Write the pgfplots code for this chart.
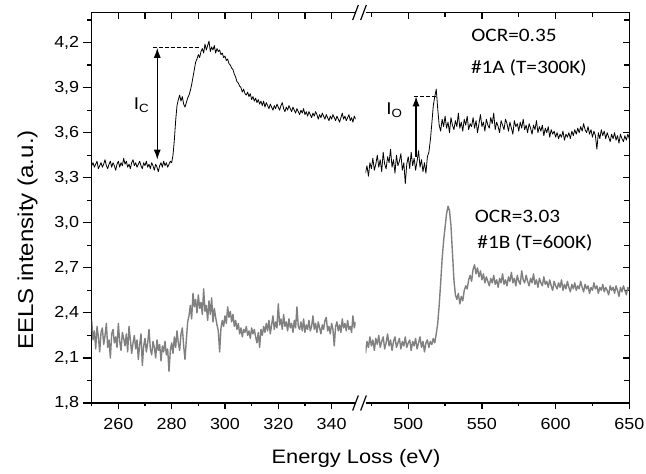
\documentclass[border=0pt]{standalone}
\usepackage{pgfplots}
\usepackage{pgfplotstable}
\pgfplotsset{compat=1.18}
\usetikzlibrary{arrows.meta}
\usepackage{fontspec}
\setmainfont{Liberation Sans}[FakeStretch=1.12]
\newfontfamily\calfont{Carlito}[FakeStretch=1.12]
\definecolor{sgray}{RGB}{128,128,128}

\pgfplotstableread{
x y
250 3.38
250.5 3.40
251 3.37
251.5 3.39
252 3.41
252.5 3.36
253 3.38
253.5 3.40
254 3.37
254.5 3.39
255 3.42
255.5 3.38
256 3.36
256.5 3.39
257 3.41
257.5 3.37
258 3.40
258.5 3.38
259 3.35
259.5 3.39
260 3.41
260.5 3.37
261 3.40
261.5 3.38
262 3.43
262.5 3.39
263 3.41
263.5 3.37
264 3.39
264.5 3.36
265 3.40
265.5 3.42
266 3.38
266.5 3.40
267 3.37
267.5 3.39
268 3.41
268.5 3.38
269 3.36
269.5 3.40
270 3.38
270.5 3.41
271 3.37
271.5 3.39
272 3.36
272.5 3.40
273 3.38
273.5 3.35
274 3.39
274.5 3.37
275 3.34
275.5 3.38
276 3.40
276.5 3.37
277 3.41
277.5 3.38
278 3.40
278.5 3.37
279 3.39
279.5 3.41
280 3.40
280.5 3.45
281 3.55
281.5 3.68
282 3.78
282.5 3.82
283 3.85
283.5 3.81
284 3.84
284.5 3.79
285 3.77
285.5 3.80
286 3.83
286.5 3.85
287 3.88
287.5 3.92
288 3.97
288.5 4.02
289 4.07
289.5 4.09
290 4.12
290.5 4.10
291 4.14
291.5 4.16
292 4.13
292.5 4.19
293 4.15
293.5 4.18
294 4.21
294.5 4.14
295 4.17
295.5 4.15
296 4.18
296.5 4.13
297 4.16
297.5 4.14
298 4.15
298.5 4.12
299 4.13
299.5 4.10
300 4.11
300.5 4.08
301 4.09
301.5 4.06
302 4.05
302.5 4.03
303 4.02
303.5 3.99
304 3.97
304.5 3.94
305 3.93
305.5 3.91
306 3.90
306.5 3.87
307 3.89
307.5 3.86
308 3.85
308.5 3.87
309 3.84
309.5 3.86
310 3.82
310.5 3.84
311 3.81
311.5 3.83
312 3.80
312.5 3.82
313 3.79
313.5 3.81
314 3.78
314.5 3.81
315 3.77
315.5 3.80
316 3.78
316.5 3.76
317 3.79
317.5 3.77
318 3.75
318.5 3.78
319 3.76
319.5 3.79
320 3.77
320.5 3.75
321 3.78
321.5 3.80
322 3.76
322.5 3.74
323 3.77
323.5 3.75
324 3.78
324.5 3.76
325 3.74
325.5 3.77
326 3.75
326.5 3.73
327 3.76
327.5 3.74
328 3.72
328.5 3.75
329 3.73
329.5 3.76
330 3.72
330.5 3.74
331 3.71
331.5 3.74
332 3.72
332.5 3.70
333 3.73
333.5 3.71
334 3.74
334.5 3.72
335 3.69
335.5 3.72
336 3.70
336.5 3.73
337 3.71
337.5 3.69
338 3.72
338.5 3.70
339 3.68
339.5 3.71
340 3.69
340.5 3.72
341 3.70
341.5 3.68
342 3.71
342.5 3.69
343 3.67
343.5 3.70
344 3.73
344.5 3.69
345 3.71
345.5 3.68
346 3.70
346.5 3.72
347 3.68
347.5 3.70
348 3.67
348.5 3.71
349 3.69
}\blackL

\pgfplotstableread{
x y
471 3.33
472 3.38
473 3.31
474 3.40
475 3.36
476 3.43
477 3.35
478 3.39
479 3.45
480 3.37
481 3.42
482 3.34
483 3.47
484 3.39
485 3.36
486 3.44
487 3.40
488 3.49
489 3.37
490 3.42
491 3.33
492 3.45
493 3.38
494 3.41
495 3.46
496 3.35
497 3.40
498 3.26
499 3.39
500 3.44
501 3.36
502 3.47
503 3.38
504 3.43
505 3.35
506 3.41
507 3.48
508 3.37
509 3.42
510 3.34
511 3.40
512 3.33
513 3.44
514 3.47
515 3.55
516 3.66
517 3.78
518 3.84
519 3.89
520 3.76
521 3.65
522 3.61
523 3.69
524 3.64
525 3.71
526 3.63
527 3.67
528 3.60
529 3.70
530 3.65
531 3.62
532 3.68
533 3.64
534 3.73
535 3.63
536 3.67
537 3.61
538 3.69
539 3.65
540 3.71
541 3.62
542 3.66
543 3.64
544 3.70
545 3.63
546 3.68
547 3.60
548 3.66
549 3.72
550 3.64
551 3.67
552 3.61
553 3.69
554 3.65
555 3.63
556 3.70
557 3.66
558 3.73
559 3.62
560 3.67
561 3.64
562 3.60
563 3.68
564 3.65
565 3.62
566 3.69
567 3.66
568 3.61
569 3.67
570 3.63
571 3.59
572 3.68
573 3.64
574 3.66
575 3.61
576 3.67
577 3.63
578 3.69
579 3.62
580 3.65
581 3.60
582 3.66
583 3.63
584 3.59
585 3.65
586 3.62
587 3.68
588 3.60
589 3.64
590 3.61
591 3.65
592 3.58
593 3.63
594 3.60
595 3.64
596 3.57
597 3.62
598 3.59
599 3.61
600 3.57
601 3.60
602 3.56
603 3.59
604 3.57
605 3.61
606 3.55
607 3.59
608 3.57
609 3.60
610 3.56
611 3.61
612 3.58
613 3.62
614 3.59
615 3.63
616 3.60
617 3.64
618 3.61
619 3.66
620 3.62
621 3.60
622 3.64
623 3.59
624 3.62
625 3.57
626 3.61
627 3.58
628 3.49
629 3.60
630 3.56
631 3.62
632 3.58
633 3.61
634 3.56
635 3.60
636 3.57
637 3.54
638 3.59
639 3.56
640 3.60
641 3.55
642 3.58
643 3.53
644 3.59
645 3.56
646 3.54
647 3.58
648 3.55
649 3.59
650 3.56
}\blackR

\pgfplotstableread{
x y
250 2.35
250.5 2.22
251 2.28
251.5 2.16
252 2.31
252.5 2.24
253 2.14
253.5 2.27
254 2.30
254.5 2.19
255 2.25
255.5 2.33
256 2.17
256.5 2.22
257 2.10
257.5 2.26
258 2.29
258.5 2.20
259 2.24
259.5 2.17
260 2.33
260.5 2.21
261 2.15
261.5 2.27
262 2.23
262.5 2.18
263 2.26
263.5 2.14
264 2.31
264.5 2.22
265 2.13
265.5 2.20
266 2.25
266.5 2.16
267 2.22
267.5 2.09
268 2.19
268.5 2.26
269 2.05
269.5 2.18
270 2.23
270.5 2.14
271 2.20
271.5 2.29
272 2.16
272.5 2.12
273 2.21
273.5 2.17
274 2.10
274.5 2.22
275 2.15
275.5 2.19
276 2.08
276.5 2.18
277 2.14
277.5 2.21
278 2.12
278.5 2.16
279 2.01
279.5 2.15
280 2.20
280.5 2.13
281 2.24
281.5 2.17
282 2.28
282.5 2.20
283 2.15
283.5 2.26
284 2.30
284.5 2.18
285 2.09
285.5 2.22
286 2.34
286.5 2.38
287 2.45
287.5 2.36
288 2.53
288.5 2.44
289 2.49
289.5 2.40
290 2.52
290.5 2.43
291 2.47
291.5 2.39
292 2.56
292.5 2.41
293 2.45
293.5 2.35
294 2.48
294.5 2.39
295 2.50
295.5 2.34
296 2.43
296.5 2.37
297 2.32
297.5 2.28
298 2.14
298.5 2.30
299 2.35
299.5 2.31
300 2.38
300.5 2.33
301 2.44
301.5 2.37
302 2.41
302.5 2.34
303 2.39
303.5 2.31
304 2.35
304.5 2.29
305 2.33
305.5 2.26
306 2.30
306.5 2.24
307 2.29
307.5 2.27
308 2.31
308.5 2.25
309 2.28
309.5 2.23
310 2.30
310.5 2.26
311 2.29
311.5 2.24
312 2.20
312.5 2.27
313 2.17
313.5 2.29
314 2.25
314.5 2.31
315 2.27
315.5 2.33
316 2.28
316.5 2.35
317 2.26
317.5 2.32
318 2.38
318.5 2.29
319 2.34
319.5 2.30
320 2.46
320.5 2.32
321 2.36
321.5 2.29
322 2.39
322.5 2.31
323 2.34
323.5 2.28
324 2.36
324.5 2.30
325 2.33
325.5 2.27
326 2.35
326.5 2.30
327 2.44
327.5 2.31
328 2.29
328.5 2.34
329 2.28
329.5 2.36
330 2.27
330.5 2.32
331 2.29
331.5 2.35
332 2.28
332.5 2.31
333 2.38
333.5 2.29
334 2.33
334.5 2.27
335 2.34
335.5 2.30
336 2.26
336.5 2.32
337 2.29
337.5 2.35
338 2.37
338.5 2.28
339 2.31
339.5 2.26
340 2.33
340.5 2.29
341 2.18
341.5 2.31
342 2.34
342.5 2.28
343 2.32
343.5 2.27
344 2.36
344.5 2.30
345 2.33
345.5 2.28
346 2.35
346.5 2.29
347 2.31
347.5 2.27
348 2.38
348.5 2.30
349 2.34
}\grayL

\pgfplotstableread{
x y
471 2.13
472 2.21
473 2.17
474 2.24
475 2.18
476 2.22
477 2.15
478 2.23
479 2.19
480 2.25
481 2.17
482 2.21
483 2.24
484 2.16
485 2.20
486 2.26
487 2.18
488 2.22
489 2.15
490 2.21
491 2.24
492 2.17
493 2.20
494 2.23
495 2.16
496 2.21
497 2.18
498 2.24
499 2.17
500 2.20
501 2.22
502 2.15
503 2.21
504 2.18
505 2.23
506 2.16
507 2.20
508 2.24
509 2.17
510 2.21
511 2.14
512 2.20
513 2.22
514 2.17
515 2.21
516 2.19
517 2.23
518 2.20
519 2.26
520 2.33
521 2.45
522 2.60
523 2.76
524 2.88
525 2.97
526 3.06
527 3.11
528 3.08
529 2.98
530 2.80
531 2.62
532 2.52
533 2.49
534 2.53
535 2.46
536 2.51
537 2.48
538 2.55
539 2.58
540 2.56
541 2.62
542 2.65
543 2.61
544 2.69
545 2.72
546 2.66
547 2.70
548 2.64
549 2.68
550 2.62
551 2.66
552 2.60
553 2.64
554 2.61
555 2.58
556 2.63
557 2.60
558 2.65
559 2.59
560 2.62
561 2.57
562 2.63
563 2.60
564 2.66
565 2.59
566 2.62
567 2.58
568 2.64
569 2.61
570 2.67
571 2.60
572 2.63
573 2.58
574 2.65
575 2.61
576 2.59
577 2.68
578 2.62
579 2.60
580 2.65
581 2.61
582 2.58
583 2.63
584 2.60
585 2.66
586 2.59
587 2.62
588 2.57
589 2.63
590 2.60
591 2.58
592 2.64
593 2.59
594 2.61
595 2.57
596 2.62
597 2.58
598 2.55
599 2.61
600 2.58
601 2.56
602 2.60
603 2.57
604 2.62
605 2.55
606 2.59
607 2.56
608 2.61
609 2.57
610 2.54
611 2.59
612 2.56
613 2.60
614 2.55
615 2.58
616 2.56
617 2.61
618 2.57
619 2.54
620 2.59
621 2.56
622 2.58
623 2.53
624 2.57
625 2.55
626 2.60
627 2.56
628 2.58
629 2.53
630 2.57
631 2.55
632 2.59
633 2.54
634 2.57
635 2.55
636 2.52
637 2.58
638 2.55
639 2.57
640 2.53
641 2.58
642 2.55
643 2.51
644 2.57
645 2.54
646 2.58
647 2.55
648 2.52
649 2.57
650 2.55
}\grayR

\pgfplotsset{
  eels/.style={
    scale only axis, anchor=south west, height=390.5pt,
    ymin=1.8, ymax=4.4,
    axis line style={line width=1.2pt, black},
    every tick/.append style={line width=1.2pt, black},
    tick label style={font=\fontsize{16}{16}\selectfont},
    /pgf/number format/assume math mode=true,
    ytick={1.8,2.1,2.4,2.7,3.0,3.3,3.6,3.9,4.2},
    minor ytick={1.95,2.25,2.55,2.85,3.15,3.45,3.75,4.05,4.35},
    yticklabel style={/pgf/number format/.cd, fixed, fixed zerofill, precision=1, use comma},
  },
  leftx/.style={eels, at={(91.7pt,71pt)}, width=263.9pt, xmin=250, xmax=349,
    xtick={260,280,300,320,340}, minor xtick={250,270,290,310,330}},
  rightx/.style={eels, at={(365.5pt,71pt)}, width=263.8pt, xmin=471, xmax=650,
    xtick={500,550,600,650}, minor xtick={475,525,575,625}},
}

\begin{document}
\begin{tikzpicture}
\path[use as bounding box] (0,0) rectangle (646pt,474pt);

% left segment: bottom x axis
\begin{axis}[leftx, axis x line*=bottom, axis y line=none, tick align=outside,
  major tick length=6.5pt, minor tick length=3.5pt, xticklabel style={yshift=-5pt}]
\end{axis}
% left segment: top x axis
\begin{axis}[leftx, axis x line*=top, axis y line=none, tick align=inside,
  major tick length=6.5pt, minor tick length=6.5pt, xticklabels={}]
\end{axis}
% left segment: y axis and data
\begin{axis}[leftx, axis x line=none, axis y line*=left, tick align=outside,
  major tick length=9pt, minor tick length=4.5pt]
\addplot[black, line width=0.8pt, line join=round] table[x=x,y=y] {\blackL};
\addplot[sgray, line width=1.4pt, line join=round] table[x=x,y=y] {\grayL};
\draw[{Latex[length=10pt,width=7pt]}-{Latex[length=10pt,width=7pt]}, line width=1.2pt]
  (axis cs:274.6,3.42) -- (axis cs:274.6,4.165);
\draw[line width=1.2pt, dash pattern=on 4pt off 2pt] (axis cs:272.9,4.165) -- (axis cs:290.6,4.165);
\end{axis}

% right segment: bottom x axis
\begin{axis}[rightx, axis x line*=bottom, axis y line=none, tick align=outside,
  major tick length=6.5pt, minor tick length=3.5pt, xticklabel style={yshift=-5pt}]
\end{axis}
% right segment: top x axis, right y axis and data
\begin{axis}[rightx, axis x line*=top, axis y line*=right, tick align=inside,
  major tick length=6.5pt, minor tick length=5pt, xticklabels={}, yticklabels={}]
\addplot[black, line width=0.8pt, line join=round] table[x=x,y=y] {\blackR};
\addplot[sgray, line width=1.4pt, line join=round] table[x=x,y=y] {\grayR};
\draw[-{Latex[length=10pt,width=7pt]}, line width=1.2pt]
  (axis cs:505.3,3.44) -- (axis cs:505.3,3.842);
\draw[line width=1.2pt, dash pattern=on 4pt off 2pt] (axis cs:503.9,3.842) -- (axis cs:519.5,3.842);
\end{axis}

% axis break marks
\foreach \yy in {71pt,461.5pt}{
  \draw[line width=1.2pt] (352.7pt,\yy-7.5pt) -- (358.3pt,\yy+7.5pt);
  \draw[line width=1.2pt] (360.7pt,\yy-7.5pt) -- (366.3pt,\yy+7.5pt);
}

% labels
\node[font=\fontsize{19.5}{19.5}\selectfont] at (356pt,15.7pt) {Energy Loss (eV)};
\node[rotate=90, font=\fontsize{21.5}{21.5}\selectfont] at (27.5pt,234pt) {EELS intensity (a.u.)};

\node[font=\fontsize{17}{17}\selectfont] at (141.5pt,369pt) {I\textsubscript{C}};
\node[font=\fontsize{17}{17}\selectfont] at (394.5pt,364pt) {I\textsubscript{O}};

\node[font=\calfont\fontsize{19}{19}\selectfont] at (514pt,439pt) {OCR=0.35};
\node[font=\calfont\fontsize{19}{19}\selectfont] at (529pt,406pt) {\#1A (T=300K)};
\node[font=\calfont\fontsize{19}{19}\selectfont] at (517.5pt,257.3pt) {OCR=3.03};
\node[font=\calfont\fontsize{19}{19}\selectfont] at (535pt,230.7pt) {\#1B (T=600K)};
\end{tikzpicture}
\end{document}
